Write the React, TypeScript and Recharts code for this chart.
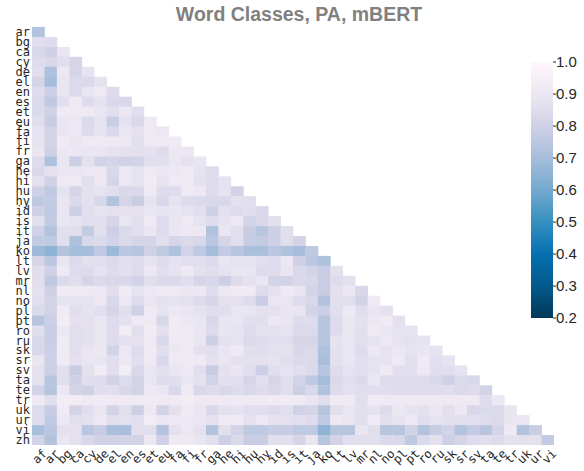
import React from "react";
import { Bar, BarChart, Scatter, ScatterChart, XAxis, YAxis } from "recharts";

const rowLabels = [
  "ar", "bg", "ca", "cy", "de", "el", "en", "es", "et", "eu", "fa", "fi", "fr", "ga",
  "he", "hi", "hu", "hy", "id", "is", "it", "ja", "ko", "lt", "lv", "mr", "nl", "no",
  "pl", "pt", "ro", "ru", "sk", "sr", "sv", "ta", "te", "tr", "uk", "ur", "vi", "zh",
];

const colLabels = [
  "af", "ar", "bg", "ca", "cy", "de", "el", "en", "es", "et", "eu", "fa", "fi", "fr",
  "ga", "he", "hi", "hu", "hy", "id", "is", "it", "ja", "ko", "lt", "lv", "mr", "nl",
  "no", "pl", "pt", "ro", "ru", "sk", "sr", "sv", "ta", "te", "tr", "uk", "ur", "vi",
];

// lower triangle, one row per language in rowLabels
const heatRows: number[][] = [
  [0.73],
  [0.86, 0.85],
  [0.83, 0.8, 0.89],
  [0.85, 0.83, 0.86, 0.82],
  [0.86, 0.72, 0.9, 0.82, 0.88],
  [0.82, 0.7, 0.89, 0.84, 0.84, 0.88],
  [0.85, 0.79, 0.89, 0.84, 0.89, 0.91, 0.85],
  [0.84, 0.76, 0.86, 0.91, 0.85, 0.88, 0.83, 0.83],
  [0.84, 0.8, 0.92, 0.91, 0.91, 0.89, 0.86, 0.9, 0.86],
  [0.86, 0.78, 0.89, 0.9, 0.84, 0.88, 0.78, 0.88, 0.83, 0.91],
  [0.88, 0.81, 0.89, 0.9, 0.85, 0.88, 0.83, 0.89, 0.87, 0.91, 0.9],
  [0.88, 0.81, 0.92, 0.89, 0.91, 0.91, 0.91, 0.9, 0.86, 0.91, 0.91, 0.92],
  [0.89, 0.8, 0.9, 0.9, 0.89, 0.89, 0.88, 0.87, 0.87, 0.87, 0.85, 0.9, 0.9],
  [0.85, 0.72, 0.89, 0.79, 0.87, 0.81, 0.82, 0.8, 0.81, 0.86, 0.86, 0.89, 0.87, 0.89],
  [0.83, 0.87, 0.89, 0.89, 0.9, 0.9, 0.83, 0.9, 0.88, 0.91, 0.89, 0.9, 0.92, 0.88, 0.85],
  [0.87, 0.8, 0.91, 0.91, 0.86, 0.9, 0.82, 0.9, 0.88, 0.92, 0.88, 0.91, 0.91, 0.87, 0.85, 0.88],
  [0.8, 0.76, 0.88, 0.82, 0.87, 0.88, 0.86, 0.83, 0.83, 0.91, 0.85, 0.85, 0.91, 0.9, 0.85, 0.88,
    0.81],
  [0.76, 0.77, 0.89, 0.84, 0.87, 0.83, 0.73, 0.82, 0.78, 0.88, 0.83, 0.88, 0.85, 0.84, 0.83, 0.83,
    0.87, 0.86],
  [0.8, 0.76, 0.89, 0.79, 0.86, 0.88, 0.87, 0.87, 0.87, 0.89, 0.88, 0.89, 0.88, 0.86, 0.8, 0.87,
    0.85, 0.86, 0.83],
  [0.86, 0.77, 0.89, 0.88, 0.86, 0.86, 0.82, 0.89, 0.86, 0.91, 0.85, 0.89, 0.91, 0.88, 0.85, 0.88,
    0.9, 0.81, 0.83, 0.86],
  [0.8, 0.73, 0.86, 0.86, 0.77, 0.86, 0.79, 0.84, 0.86, 0.89, 0.85, 0.89, 0.9, 0.9, 0.73, 0.89,
    0.86, 0.78, 0.74, 0.79, 0.86],
  [0.77, 0.76, 0.86, 0.72, 0.83, 0.84, 0.81, 0.84, 0.82, 0.82, 0.86, 0.82, 0.84, 0.83, 0.75, 0.82,
    0.86, 0.78, 0.77, 0.79, 0.86, 0.81],
  [0.68, 0.65, 0.73, 0.7, 0.7, 0.76, 0.68, 0.75, 0.74, 0.8, 0.76, 0.72, 0.81, 0.76, 0.7, 0.77,
    0.74, 0.71, 0.71, 0.75, 0.72, 0.7, 0.76],
  [0.82, 0.75, 0.89, 0.84, 0.87, 0.86, 0.84, 0.86, 0.85, 0.88, 0.85, 0.88, 0.86, 0.86, 0.84, 0.89,
    0.88, 0.88, 0.86, 0.85, 0.9, 0.8, 0.75, 0.72],
  [0.86, 0.8, 0.91, 0.85, 0.85, 0.88, 0.85, 0.87, 0.85, 0.9, 0.86, 0.88, 0.91, 0.87, 0.86, 0.88,
    0.89, 0.89, 0.85, 0.85, 0.89, 0.83, 0.81, 0.78, 0.87],
  [0.86, 0.76, 0.84, 0.86, 0.82, 0.84, 0.83, 0.83, 0.81, 0.86, 0.84, 0.84, 0.86, 0.82, 0.83, 0.79,
    0.85, 0.87, 0.89, 0.81, 0.81, 0.83, 0.83, 0.78, 0.85, 0.87],
  [0.87, 0.8, 0.92, 0.91, 0.91, 0.9, 0.86, 0.92, 0.88, 0.9, 0.91, 0.91, 0.9, 0.9, 0.85, 0.9,
    0.92, 0.92, 0.85, 0.87, 0.91, 0.89, 0.81, 0.78, 0.87, 0.9, 0.83],
  [0.86, 0.81, 0.88, 0.88, 0.88, 0.9, 0.83, 0.9, 0.85, 0.89, 0.87, 0.88, 0.87, 0.85, 0.82, 0.87,
    0.87, 0.85, 0.78, 0.89, 0.89, 0.85, 0.83, 0.73, 0.87, 0.86, 0.81, 0.91],
  [0.84, 0.81, 0.92, 0.86, 0.88, 0.86, 0.82, 0.86, 0.8, 0.91, 0.88, 0.9, 0.89, 0.88, 0.86, 0.86,
    0.89, 0.89, 0.87, 0.87, 0.89, 0.89, 0.81, 0.79, 0.86, 0.91, 0.86, 0.89, 0.87],
  [0.74, 0.79, 0.93, 0.87, 0.87, 0.89, 0.85, 0.87, 0.91, 0.91, 0.83, 0.92, 0.9, 0.89, 0.83, 0.89,
    0.89, 0.86, 0.86, 0.9, 0.89, 0.85, 0.85, 0.74, 0.85, 0.89, 0.87, 0.9, 0.92, 0.87],
  [0.86, 0.78, 0.9, 0.86, 0.87, 0.89, 0.85, 0.93, 0.86, 0.93, 0.87, 0.92, 0.91, 0.89, 0.85, 0.89,
    0.88, 0.85, 0.87, 0.87, 0.88, 0.84, 0.84, 0.74, 0.85, 0.89, 0.86, 0.91, 0.89, 0.88, 0.88],
  [0.83, 0.78, 0.92, 0.86, 0.87, 0.89, 0.85, 0.87, 0.87, 0.91, 0.83, 0.91, 0.91, 0.89, 0.79, 0.87,
    0.88, 0.84, 0.85, 0.86, 0.86, 0.82, 0.82, 0.74, 0.88, 0.89, 0.86, 0.88, 0.9, 0.88, 0.87, 0.88],
  [0.83, 0.79, 0.92, 0.86, 0.89, 0.9, 0.81, 0.9, 0.85, 0.92, 0.86, 0.9, 0.91, 0.87, 0.86, 0.89,
    0.91, 0.86, 0.86, 0.87, 0.87, 0.83, 0.84, 0.72, 0.87, 0.89, 0.85, 0.9, 0.88, 0.9, 0.88, 0.89,
    0.88],
  [0.89, 0.79, 0.92, 0.87, 0.89, 0.89, 0.86, 0.9, 0.86, 0.91, 0.83, 0.91, 0.91, 0.91, 0.87, 0.89,
    0.87, 0.87, 0.87, 0.88, 0.86, 0.84, 0.84, 0.71, 0.87, 0.89, 0.86, 0.88, 0.88, 0.91, 0.86, 0.91,
    0.86, 0.88],
  [0.87, 0.79, 0.86, 0.78, 0.87, 0.92, 0.86, 0.93, 0.83, 0.89, 0.86, 0.89, 0.9, 0.86, 0.78, 0.87,
    0.89, 0.86, 0.79, 0.86, 0.88, 0.86, 0.84, 0.74, 0.85, 0.88, 0.86, 0.88, 0.91, 0.86, 0.86, 0.9,
    0.86, 0.86, 0.88],
  [0.87, 0.74, 0.86, 0.8, 0.86, 0.85, 0.81, 0.85, 0.81, 0.89, 0.85, 0.86, 0.89, 0.87, 0.81, 0.87,
    0.86, 0.82, 0.86, 0.82, 0.86, 0.81, 0.76, 0.7, 0.84, 0.86, 0.84, 0.89, 0.85, 0.85, 0.85, 0.85,
    0.83, 0.8, 0.84, 0.83],
  [0.81, 0.74, 0.9, 0.81, 0.8, 0.86, 0.86, 0.83, 0.81, 0.9, 0.89, 0.83, 0.91, 0.83, 0.85, 0.83,
    0.85, 0.83, 0.85, 0.83, 0.86, 0.79, 0.83, 0.73, 0.85, 0.87, 0.86, 0.86, 0.86, 0.85, 0.85, 0.85,
    0.85, 0.86, 0.84, 0.85, 0.81],
  [0.91, 0.86, 0.93, 0.93, 0.91, 0.92, 0.91, 0.92, 0.91, 0.92, 0.91, 0.92, 0.93, 0.91, 0.91, 0.91,
    0.91, 0.91, 0.91, 0.92, 0.92, 0.92, 0.89, 0.86, 0.92, 0.92, 0.86, 0.92, 0.91, 0.91, 0.91, 0.91,
    0.91, 0.91, 0.91, 0.91, 0.85, 0.9],
  [0.85, 0.78, 0.92, 0.81, 0.86, 0.89, 0.81, 0.86, 0.79, 0.9, 0.81, 0.87, 0.91, 0.89, 0.83, 0.87,
    0.88, 0.86, 0.86, 0.85, 0.86, 0.8, 0.82, 0.74, 0.86, 0.89, 0.86, 0.88, 0.85, 0.9, 0.88, 0.87,
    0.9, 0.86, 0.9, 0.83, 0.84, 0.84, 0.89],
  [0.85, 0.76, 0.9, 0.86, 0.87, 0.9, 0.86, 0.87, 0.86, 0.93, 0.89, 0.9, 0.9, 0.89, 0.87, 0.91,
    0.92, 0.87, 0.9, 0.87, 0.87, 0.86, 0.85, 0.76, 0.91, 0.89, 0.86, 0.92, 0.86, 0.88, 0.9, 0.86,
    0.88, 0.87, 0.86, 0.86, 0.85, 0.84, 0.89, 0.89],
  [0.71, 0.75, 0.87, 0.87, 0.75, 0.78, 0.71, 0.71, 0.86, 0.86, 0.73, 0.87, 0.9, 0.87, 0.73, 0.86,
    0.81, 0.76, 0.76, 0.78, 0.78, 0.76, 0.76, 0.65, 0.74, 0.74, 0.89, 0.86, 0.74, 0.74, 0.81, 0.73,
    0.78, 0.81, 0.73, 0.77, 0.74, 0.82, 0.91, 0.73, 0.78],
  [0.81, 0.73, 0.89, 0.87, 0.83, 0.8, 0.8, 0.81, 0.81, 0.9, 0.8, 0.91, 0.91, 0.89, 0.86, 0.79,
    0.84, 0.78, 0.78, 0.86, 0.86, 0.82, 0.89, 0.74, 0.81, 0.86, 0.86, 0.86, 0.84, 0.83, 0.76, 0.84,
    0.87, 0.79, 0.82, 0.85, 0.86, 0.85, 0.87, 0.87, 0.87, 0.77],
];

const colorbarTicks = [0.2, 0.3, 0.4, 0.5, 0.6, 0.7, 0.8, 0.9, 1.0];
const vmin = 0.2;
const vmax = 1.0;

// PuBu, reversed below so low values are dark
const pubu = ["#fff7fb", "#ece7f2", "#d0d1e6", "#a6bddb", "#74a9cf", "#3690c0", "#0570b0", "#045a8d", "#023858"];
const pubuR = [...pubu].reverse();

const W = 584;
const H = 471;
const PLOT_LEFT = 32;
const PLOT_RIGHT = 554;
const PLOT_TOP = 27;
const PLOT_BOTTOM = 445;
const N = colLabels.length;
const CELL_W = (PLOT_RIGHT - PLOT_LEFT) / N;
const CELL_H = (PLOT_BOTTOM - PLOT_TOP) / rowLabels.length;

const labelFont = "'DejaVu Sans Mono', monospace";
const textFont = "'Liberation Sans', Arial, sans-serif";

function hexToRgb(h: string) {
  const n = parseInt(h.slice(1), 16);
  return [(n >> 16) & 255, (n >> 8) & 255, n & 255];
}

function colorFor(v: number) {
  const t = Math.min(1, Math.max(0, (v - vmin) / (vmax - vmin))) * (pubuR.length - 1);
  const i = Math.min(pubuR.length - 2, Math.floor(t));
  const f = t - i;
  const a = hexToRgb(pubuR[i]);
  const b = hexToRgb(pubuR[i + 1]);
  const c = a.map((x, k) => Math.round(x + (b[k] - x) * f));
  return `rgb(${c[0]},${c[1]},${c[2]})`;
}

const cells = heatRows.flatMap((row, r) =>
  row.map((v, c) => ({ x: c + 0.5, y: r + 0.5, v })),
);
const xTicks = colLabels.map((_, i) => i + 0.5);
const yTicks = rowLabels.map((_, i) => i + 0.5);
const colorbarData = [{ name: "cbar", range: [vmin, vmax] }];

function Cell(props: any) {
  const { cx, cy, payload } = props;
  return (
    <rect
      x={cx - CELL_W / 2}
      y={cy - CELL_H / 2}
      width={CELL_W + 0.4}
      height={CELL_H + 0.4}
      fill={colorFor(payload.v)}
    />
  );
}

function XTick({ x, y, payload }: any) {
  return (
    <g transform={`translate(${x + 3},${y + 1})`}>
      <text
        transform="rotate(-45)"
        textAnchor="end"
        dy={9}
        fontFamily={labelFont}
        fontSize={12}
        fill="#262626"
      >
        {colLabels[Math.floor(payload.value)]}
      </text>
    </g>
  );
}

function YTick({ x, y, payload }: any) {
  return (
    <text
      x={x}
      y={y}
      dy={4}
      textAnchor="end"
      fontFamily={labelFont}
      fontSize={12}
      fill="#262626"
    >
      {rowLabels[Math.floor(payload.value)]}
    </text>
  );
}

export default function App() {
  return (
    <div style={{ position: "absolute", left: 0, top: 0, width: W, height: H, background: "#fff" }}>
      <div
        style={{
          position: "absolute",
          left: 99,
          top: 3,
          width: 400,
          textAlign: "center",
          fontFamily: textFont,
          fontWeight: "bold",
          fontSize: 19.5,
          color: "#808080",
        }}
      >
        Word Classes, PA, mBERT
      </div>
      <div style={{ position: "absolute", left: 0, top: 0 }}>
        <ScatterChart
          width={W}
          height={H}
          margin={{ top: PLOT_TOP, right: W - PLOT_RIGHT, bottom: 0, left: 2 }}
        >
          <XAxis
            type="number"
            dataKey="x"
            domain={[0, N]}
            ticks={xTicks}
            interval={0}
            height={H - PLOT_BOTTOM}
            axisLine={false}
            tickLine={false}
            tickSize={0}
            tick={<XTick />}
            allowDataOverflow
          />
          <YAxis
            type="number"
            dataKey="y"
            domain={[0, rowLabels.length]}
            reversed
            ticks={yTicks}
            interval={0}
            width={PLOT_LEFT - 2}
            axisLine={false}
            tickLine={false}
            tickSize={0}
            tickMargin={2}
            tick={<YTick />}
            allowDataOverflow
          />
          <Scatter data={cells} shape={<Cell />} isAnimationActive={false} />
        </ScatterChart>
      </div>
      <div style={{ position: "absolute", left: 531, top: 0 }}>
        <BarChart
          width={W - 531}
          height={H}
          data={colorbarData}
          margin={{ top: 62, right: 0, bottom: H - 318, left: 0 }}
          barCategoryGap={0}
        >
          <defs>
            <linearGradient id="cbarGrad" x1="0" y1="0" x2="0" y2="1">
              {pubu.map((c, i) => (
                <stop key={c} offset={`${(i / (pubu.length - 1)) * 100}%`} stopColor={c} />
              ))}
            </linearGradient>
          </defs>
          <XAxis dataKey="name" hide />
          <YAxis
            orientation="right"
            type="number"
            domain={[vmin, vmax]}
            ticks={colorbarTicks}
            interval={0}
            width={31}
            axisLine={false}
            tickSize={3}
            tickMargin={0}
            tickLine={{ stroke: "#262626" }}
            tickFormatter={(v: number) => v.toFixed(1)}
            tick={{ fill: "#262626", fontSize: 15, fontFamily: textFont }}
          />
          <Bar dataKey="range" fill="url(#cbarGrad)" isAnimationActive={false} />
        </BarChart>
      </div>
    </div>
  );
}
